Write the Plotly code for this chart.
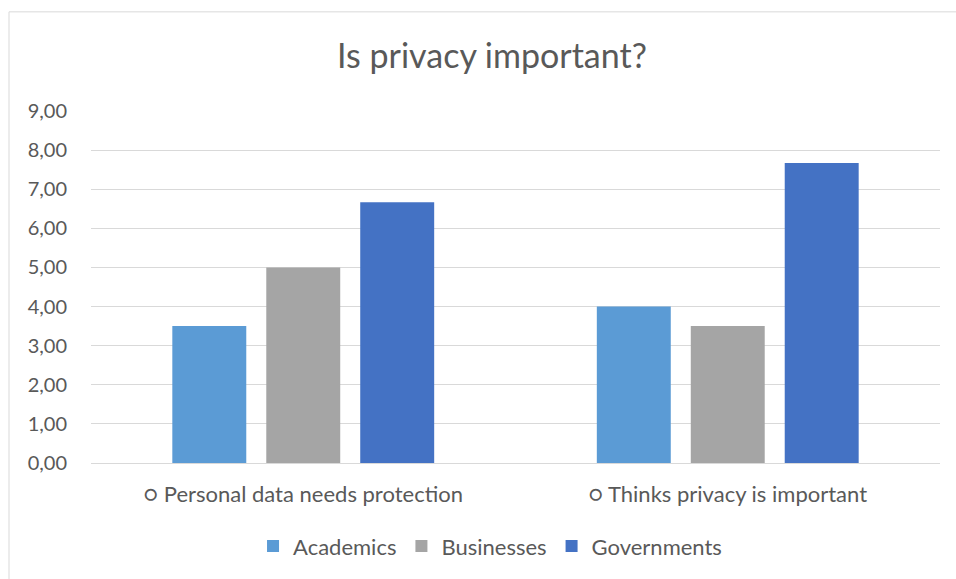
import plotly.graph_objects as go

categories = ["Personal data needs protection", "Thinks privacy is important"]
series_names = ["Academics", "Businesses", "Governments"]
academics = [3.5, 4.0]
businesses = [5.0, 3.5]
governments = [6.67, 7.67]
colors = ["#5B9BD5", "#A5A5A5", "#4472C4"]
y_ticks = [0, 1, 2, 3, 4, 5, 6, 7, 8, 9]

fig = go.Figure()
for name, vals, col in zip(series_names, [academics, businesses, governments], colors):
    fig.add_trace(go.Bar(x=categories, y=vals, name=name, marker_color=col,
                         marker_line_width=0))

W, H = 956, 579
L, R, T, B = 91, 16, 111, 113
pw, ph = W - L - R, H - T - B

fig.update_layout(
    width=W, height=H,
    margin=dict(l=L, r=R, t=T, b=B),
    paper_bgcolor="white", plot_bgcolor="white",
    separators=",.",
    font=dict(family="Lato, 'Open Sans', sans-serif", color="#595959", size=20),
    title=dict(text="Is privacy important?", x=492 / W, xanchor="center",
               y=1 - 56 / H, yanchor="middle",
               font=dict(size=34, color="#595959")),
    barmode="group", bargap=0.336, bargroupgap=0.213,
    showlegend=True,
    legend=dict(orientation="h", x=0.47, xanchor="center", y=-(550 - 466) / ph, yanchor="middle",
                font=dict(size=22, color="#595959"), itemwidth=30, traceorder="normal"),
    xaxis=dict(tickvals=categories, ticktext=["○ " + c for c in categories],
               tickfont=dict(size=22, color="#595959"), showgrid=False,
               showline=True, linecolor="#d9d9d9", linewidth=1,
               ticks="outside", ticklen=12, tickcolor="rgba(0,0,0,0)"),
    yaxis=dict(range=[0, 9], tickvals=y_ticks, tickformat=".2f",
               showgrid=True, gridcolor="#d9d9d9", gridwidth=1,
               zeroline=False, showline=False, ticks="",
               tickfont=dict(size=20, color="#595959"), ticklabelstandoff=23),
)

# chart container border
fig.add_shape(type="rect", xref="paper", yref="paper",
              x0=(9 - L) / pw, x1=(W + 5 - L) / pw,
              y0=-(H + 5 - T - ph) / ph, y1=1 + (T - 11) / ph,
              line=dict(color="#d9d9d9", width=1), fillcolor="rgba(0,0,0,0)", layer="below")

fig.write_html("out.html")
